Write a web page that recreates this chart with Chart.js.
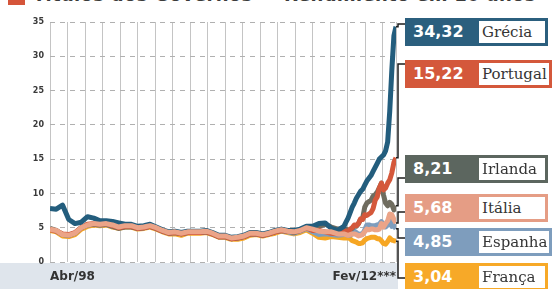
<!DOCTYPE html>
<html lang="pt">
<head>
<meta charset="utf-8">
<title>Rendimento em 10 anos</title>
<script src="https://cdn.jsdelivr.net/npm/chart.js@4.4.1/dist/chart.umd.min.js"></script>
<style>
    html, body { margin: 0; padding: 0; background: #ffffff; }
    body { position: relative; width: 552px; height: 289px; overflow: hidden; font-family: "DejaVu Sans", sans-serif; }
    .title_square { position: absolute; left: 8px; top: 0; width: 17px; height: 5px; background: #d5553a; }
    .title { position: absolute; left: 33px; top: -14px; white-space: nowrap; font-weight: bold; font-size: 18px; letter-spacing: 0.3px; line-height: 18px; color: #3b3b3b; }
    .band { position: absolute; left: 0; top: 263px; width: 398px; height: 26px; background: #dfe5ec; }
    #chart_canvas { position: absolute; left: 0; top: 0; z-index: 1; }
    .label_box { position: absolute; left: 405px; height: 28px; width: 143px; z-index: 2; }
    .label_box .value { position: absolute; left: 8px; top: 0; line-height: 28px; color: #ffffff; font-weight: bold; font-size: 16px; }
    .label_box .name { position: absolute; left: 74px; top: 3px; bottom: 3px; right: 3px; background: #ffffff; padding-left: 3px; font-family: "DejaVu Serif", serif; font-size: 15px; line-height: 22px; color: #353535; white-space: nowrap; overflow: hidden; }
</style>
</head>
<body>
<div class="title_square"></div>
<div class="title">Títulos dos Governos — Rendimento em 10 anos</div>
<div class="band"></div>
<canvas id="chart_canvas" width="552" height="289"></canvas>
<div id="labels"></div>
<script>
"use strict";
// Months Since Abr/98 (Quarterly Until Out/09, Then Monthly Until Fev/12)
const meses = [0, 3, 6, 9, 12, 15, 18, 21, 24, 27, 30, 33, 36, 39, 42, 45, 48, 51, 54, 57, 60, 63, 66, 69, 72, 75, 78, 81, 84, 87, 90, 93, 96, 99, 102, 105, 108, 111, 114, 117, 120, 123, 126, 129, 132, 135, 138,
    141, 142, 143, 144, 145, 146, 147, 148, 149, 150, 151, 152, 153, 154, 155, 156, 157, 158, 159, 160, 161, 162, 163, 164, 165, 166];
const rotulos_x = ["Abr/98", "Fev/12***"];
const paises = ["Itália", "Grécia", "Portugal", "Irlanda", "Espanha", "França"];
// Yields (%)
const rendimento_italia = [4.8, 4.6, 4.0, 3.9, 4.2, 5.0, 5.4, 5.6, 5.5, 5.6, 5.4, 5.1, 5.3, 5.3, 5.0, 5.1, 5.3, 5.0, 4.6, 4.3, 4.4, 4.2, 4.4, 4.4, 4.4, 4.5, 4.2, 3.8, 3.8, 3.5, 3.6, 3.8, 4.2, 4.2, 4.0, 4.2, 4.5, 4.7, 4.5, 4.4, 4.6, 5.0, 4.8, 4.5, 4.4, 4.4, 4.1,
    4.1, 4.0, 3.9, 4.0, 4.1, 4.1, 4.0, 3.8, 3.9, 4.0, 4.4, 4.8, 4.7, 4.8, 4.8, 4.7, 4.7, 4.8, 5.6, 5.1, 5.6, 6.0, 7.0, 6.9, 6.2, 5.68];
const rendimento_grecia = [7.8, 7.7, 8.3, 6.2, 5.6, 5.8, 6.6, 6.4, 6.0, 6.0, 5.9, 5.7, 5.5, 5.5, 5.2, 5.3, 5.5, 5.1, 4.7, 4.4, 4.5, 4.3, 4.5, 4.5, 4.5, 4.6, 4.3, 3.9, 3.9, 3.6, 3.7, 3.9, 4.3, 4.3, 4.1, 4.3, 4.6, 4.8, 4.6, 4.6, 4.8, 5.2, 5.2, 5.6, 5.7, 4.9, 4.6,
    5.2, 5.8, 6.4, 7.2, 8.0, 8.6, 9.3, 9.8, 10.3, 10.6, 11.2, 11.8, 12.2, 12.6, 13.2, 13.8, 14.4, 15.0, 15.3, 15.6, 16.2, 17.5, 22.0, 28.0, 33.0, 34.32];
const rendimento_portugal = [4.7, 4.5, 4.1, 4.0, 4.3, 5.0, 5.5, 5.6, 5.5, 5.6, 5.3, 5.0, 5.2, 5.2, 4.9, 5.0, 5.2, 4.9, 4.5, 4.2, 4.3, 4.1, 4.3, 4.3, 4.3, 4.4, 4.1, 3.7, 3.7, 3.4, 3.5, 3.7, 4.1, 4.1, 3.9, 4.1, 4.4, 4.6, 4.5, 4.4, 4.6, 5.0, 4.6, 4.6, 4.4, 4.2, 4.1,
    4.6, 4.5, 4.3, 4.8, 5.0, 5.4, 5.3, 5.6, 6.3, 6.2, 6.9, 6.8, 7.0, 7.2, 7.8, 9.0, 9.5, 10.8, 11.5, 10.5, 10.8, 11.5, 12.0, 13.0, 14.5, 15.22];
const rendimento_irlanda = [4.9, 4.6, 4.0, 3.9, 4.2, 5.0, 5.4, 5.5, 5.4, 5.5, 5.2, 4.9, 5.1, 5.1, 4.9, 5.0, 5.2, 4.9, 4.5, 4.2, 4.3, 4.1, 4.3, 4.3, 4.3, 4.4, 4.1, 3.7, 3.7, 3.4, 3.5, 3.7, 4.1, 4.1, 3.9, 4.1, 4.4, 4.6, 4.5, 4.3, 4.6, 5.0, 4.7, 5.2, 5.5, 5.1, 4.8,
    4.8, 4.8, 4.6, 4.7, 4.9, 5.3, 5.2, 5.6, 6.2, 6.4, 8.0, 8.6, 8.8, 9.0, 9.6, 9.8, 10.2, 10.8, 11.5, 9.8, 8.6, 8.2, 8.7, 8.4, 7.6, 8.21];
const rendimento_espanha = [4.8, 4.5, 4.0, 3.9, 4.2, 5.0, 5.4, 5.5, 5.4, 5.5, 5.2, 5.0, 5.2, 5.2, 4.9, 5.0, 5.2, 4.9, 4.5, 4.2, 4.3, 4.1, 4.3, 4.3, 4.3, 4.4, 4.1, 3.7, 3.7, 3.4, 3.5, 3.7, 4.1, 4.1, 3.9, 4.1, 4.4, 4.6, 4.4, 4.2, 4.5, 4.9, 4.4, 4.0, 4.1, 4.0, 3.9,
    4.0, 4.0, 3.9, 3.9, 4.1, 4.5, 4.3, 4.0, 4.1, 4.1, 4.7, 5.4, 5.4, 5.3, 5.3, 5.3, 5.4, 5.5, 5.9, 5.2, 5.1, 5.4, 6.4, 5.2, 5.3, 4.85];
const rendimento_franca = [4.6, 4.4, 3.8, 3.7, 4.0, 4.8, 5.2, 5.4, 5.3, 5.4, 5.1, 4.9, 5.1, 5.1, 4.8, 4.9, 5.1, 4.8, 4.4, 4.1, 4.1, 3.9, 4.2, 4.2, 4.2, 4.3, 4.0, 3.6, 3.6, 3.3, 3.3, 3.5, 3.9, 4.0, 3.8, 4.0, 4.2, 4.5, 4.3, 4.1, 4.3, 4.7, 4.2, 3.6, 3.5, 3.7, 3.6,
    3.5, 3.5, 3.5, 3.4, 3.1, 3.0, 2.9, 2.7, 2.7, 2.8, 3.2, 3.4, 3.5, 3.6, 3.6, 3.6, 3.4, 3.4, 3.1, 2.7, 2.6, 3.0, 3.5, 3.2, 3.1, 3.04];
const series_values = [rendimento_italia, rendimento_grecia, rendimento_portugal, rendimento_irlanda, rendimento_espanha, rendimento_franca];

// Styles (Same Order As paises)
const line_colors = ["#eba488", "#235d7d", "#d4583b", "#6f6c5f", "#7e9dbd", "#f6a623"];
const box_colors = ["#e59d85", "#2b5f7e", "#d4583b", "#5c665f", "#7e9dbd", "#f7a928"];
const box_tops = [194, 18, 60, 155, 228, 263];
const box_widths = [143, 143, 147, 143, 147, 143];
const connector_y = [212, 24, 64, 178, 238, 278];
const elbow_x = 398;
const box_left = 405;

// Label Boxes On The Right
const labels = document.querySelector("#labels");
paises.forEach(function (one_country, i) {
    const values = series_values[i];
    const box = document.createElement("div");
    box.className = "label_box";
    box.style.top = box_tops[i] + "px";
    box.style.width = box_widths[i] + "px";
    box.style.background = box_colors[i];
    const value_span = document.createElement("span");
    value_span.className = "value";
    value_span.textContent = values[values.length - 1].toFixed(2).replace(".", ",");
    const name_span = document.createElement("span");
    name_span.className = "name";
    name_span.textContent = one_country;
    box.appendChild(value_span);
    box.appendChild(name_span);
    labels.appendChild(box);
});

// Connector Lines From Series End To Label Box
const connector_plugin = {
    id: "connectors",
    afterDatasetsDraw: function (chart) {
        const { ctx, scales } = chart;
        ctx.save();
        ctx.strokeStyle = "#1c1c1c";
        ctx.lineWidth = 1.5;
        series_values.forEach(function (values, i) {
            const px = scales.x.getPixelForValue(meses[meses.length - 1]);
            const py = scales.y.getPixelForValue(values[values.length - 1]);
            ctx.beginPath();
            ctx.moveTo(px, py);
            ctx.lineTo(elbow_x, py);
            ctx.lineTo(elbow_x, connector_y[i]);
            ctx.lineTo(box_left, connector_y[i]);
            ctx.stroke();
        });
        ctx.restore();
    }
};

const datasets = series_values.map(function (values, i) {
    return {
        label: paises[i],
        data: meses.map(function (m, j) { return { x: m, y: values[j] }; }),
        borderColor: line_colors[i],
        borderWidth: 5,
        pointRadius: 0,
        tension: 0,
        borderJoinStyle: "round",
    };
});

new Chart(document.querySelector("#chart_canvas"), {
    type: "line",
    data: { datasets: datasets },
    options: {
        responsive: false,
        animation: false,
        layout: { padding: { top: 22, right: 156, left: 0, bottom: 0 } },
        scales: {
            x: {
                type: "linear",
                min: meses[0],
                max: meses[meses.length - 1],
                afterBuildTicks: function (scale) {
                    const ticks = [];
                    for (let v = 0; v < 160; v += 8.4) {
                        ticks.push({ value: v });
                    }
                    ticks.push({ value: meses[meses.length - 1] });
                    scale.ticks = ticks;
                },
                afterFit: function (scale) { scale.height = 27; },
                border: { display: false },
                grid: { color: "#c4c4c4", lineWidth: 1, drawTicks: false },
                ticks: {
                    autoSkip: false,
                    maxRotation: 0,
                    minRotation: 0,
                    align: "inner",
                    padding: 8,
                    color: "#333333",
                    font: { family: "DejaVu Sans", size: 12, weight: "bold" },
                    callback: function (value, index, ticks) {
                        if (index === 0) return rotulos_x[0];
                        if (index === ticks.length - 1) return rotulos_x[1];
                        return "";
                    }
                }
            },
            y: {
                min: 0,
                max: 35,
                afterFit: function (scale) { scale.width = 50; },
                border: { display: false, dash: [5, 5] },
                grid: { color: "#b0b0b0", lineWidth: 1, drawTicks: false },
                ticks: {
                    stepSize: 5,
                    padding: 6,
                    color: "#3a3a3a",
                    font: { family: "DejaVu Sans", size: 8, weight: "bold" }
                }
            }
        },
        plugins: {
            legend: { display: false },
            tooltip: { enabled: false }
        }
    },
    plugins: [connector_plugin],
});
</script>
</body>
</html>
